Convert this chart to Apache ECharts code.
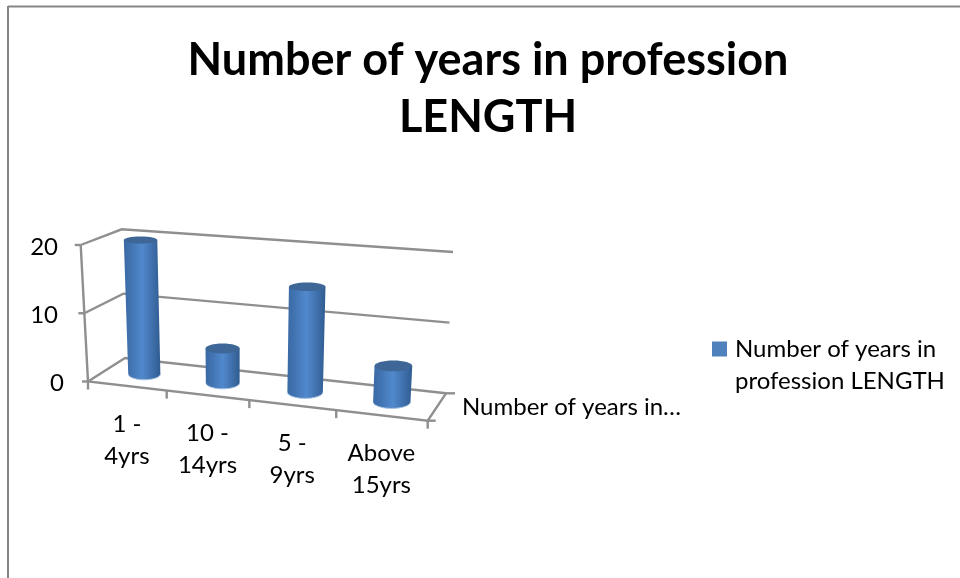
<!DOCTYPE html>
<html>
<head>
<meta charset="utf-8">
<style>html,body{margin:0;padding:0;background:#fff}#chart{width:960px;height:578px}</style>
<script src="https://cdn.jsdelivr.net/npm/echarts@6/dist/echarts.min.js"></script>
</head>
<body>
<div id="chart"></div>
<script>
const chartTitle = 'Number of years in profession\nLENGTH';
const seriesName = 'Number of years in profession LENGTH';
const depthLabel = 'Number of years in…';
const categories = ['1 - 4yrs', '10 - 14yrs', '5 - 9yrs', 'Above 15yrs'];
const lengths = [20, 5, 15, 5];
const valueTicks = [0, 10, 20];

const FONT = 'Lato, "Open Sans", sans-serif';
const LINE = '#8f8f8f';

// Corners of the 3D box on the page: front/back, bottom/top, left/right.
const box = {
  fbl: [88, 381.5], fbr: [427.7, 420.7],
  bbl: [125, 358], bbr: [446, 393.3],
  ftl: [80.7, 245], ftr: [437, 270.7],
  btl: [121.7, 229.3], btr: [453, 252]
};
const lerp = (a, b, k) => [a[0] + (b[0] - a[0]) * k, a[1] + (b[1] - a[1]) * k];
// Foreshortening along the category direction.
const warp = t => 0.9046 * t / (1 + (0.9046 - 1) * t);

// Maps axis fractions (t across, f up, z into the page) to page pixels.
function project(t, f, z) {
  const w = warp(t);
  const bottom = lerp(lerp(box.fbl, box.fbr, w), lerp(box.bbl, box.bbr, w), z);
  const top = lerp(lerp(box.ftl, box.ftr, w), lerp(box.btl, box.btr, w), z);
  return lerp(bottom, top, f);
}
// Converts a data point to axis fractions through the chart's own scales.
function fractions(api, params, cat, val) {
  const g = params.coordSys;
  const p = api.coord([cat, val]);
  return [(p[0] - g.x) / g.width, (g.y + g.height - p[1]) / g.height];
}
const lineEl = (points, width) => ({
  type: 'polyline',
  shape: { points },
  style: { stroke: LINE, lineWidth: width || 2.4, fill: 'none' },
  silent: true
});

function renderWall(params, api) {
  const f = fractions(api, params, 0, api.value(1))[1];
  const front = project(0, f, 0);
  return {
    type: 'group',
    children: [
      lineEl([front, project(0, f, 1), project(1, f, 1)]),
      lineEl([[front[0] - 6, front[1]], front])
    ]
  };
}

function renderFloor(params, api) {
  const children = [
    lineEl([project(0, 1, 0), project(0, 0, 0), project(1, 0, 0), project(1, 0, 1)]),
    lineEl([project(1, 0, 1), [project(1, 0, 1)[0] + 9, project(1, 0, 1)[1]]]),
    lineEl([project(1, 0, 0), [project(1, 0, 0)[0] + 8, project(1, 0, 0)[1]]])
  ];
  for (let i = 0; i <= categories.length; i++) {
    const p = project(i / categories.length, 0, 0);
    children.push(lineEl([p, [p[0], p[1] + 8]]));
  }
  return { type: 'group', children };
}

function renderCategoryLabel(params, api) {
  const i = api.value(0);
  const t = fractions(api, params, i, 0)[0];
  const p = project(t, 0, 0);
  const name = categories[i];
  const cut = name.lastIndexOf(' ');
  return {
    type: 'text',
    x: p[0],
    y: p[1] + 38,
    silent: true,
    style: {
      text: name.slice(0, cut) + '\n' + name.slice(cut + 1),
      font: '24px ' + FONT,
      lineHeight: 32,
      fill: '#000',
      align: 'center',
      verticalAlign: 'top',
      y: -16
    }
  };
}

function renderCylinder(params, api) {
  const i = api.value(0);
  const g = params.coordSys;
  const r = 0.21 * api.size([1, 0])[0] / g.width;
  const [t, f] = fractions(api, params, i, api.value(1));
  const base = project(t, 0, 0.5);
  const head = project(t, f, 0.5);
  const baseHalf = (project(t + r, 0, 0.5)[0] - project(t - r, 0, 0.5)[0]) / 2;
  const headHalf = (project(t + r, f, 0.5)[0] - project(t - r, f, 0.5)[0]) / 2;
  const headRy = Math.abs(project(t, f, 0.73)[1] - project(t, f, 0.27)[1]) / 2 * 0.95;
  const baseRy = Math.abs(project(t, 0, 0.73)[1] - project(t, 0, 0.27)[1]) / 2 * 1.05;

  const arc = [];
  for (let a = 0; a <= 24; a++) {
    const ang = Math.PI * a / 24;
    arc.push([base[0] + baseHalf * Math.cos(ang), base[1] + baseRy * Math.sin(ang)]);
  }
  const body = [[head[0] - headHalf, head[1]], [head[0] + headHalf, head[1]]].concat(arc);
  return {
    type: 'group',
    children: [
      {
        type: 'polygon',
        shape: { points: body },
        style: {
          fill: {
            type: 'linear', x: 0, y: 0, x2: 1, y2: 0,
            colorStops: [
              { offset: 0, color: '#3a6aa4' },
              { offset: 0.2, color: '#4274b2' },
              { offset: 0.5, color: '#5189cd' },
              { offset: 0.78, color: '#4070ac' },
              { offset: 1, color: '#2f5c90' }
            ]
          }
        }
      },
      {
        type: 'polyline',
        shape: { points: arc },
        style: { stroke: '#a9c4e4', lineWidth: 1, fill: 'none' }
      },
      {
        type: 'ellipse',
        shape: { cx: head[0], cy: head[1], rx: headHalf, ry: headRy },
        style: { fill: '#3e6696' }
      }
    ]
  };
}

const tickRich = { fontFamily: FONT, fontSize: 24, color: '#000' };

const chart = echarts.init(document.getElementById('chart'), null, { renderer: 'canvas' });
chart.setOption({
  animation: false,
  backgroundColor: '#ffffff',
  textStyle: { fontFamily: FONT },
  title: {
    text: chartTitle,
    left: 483,
    top: 27,
    textAlign: 'center',
    textStyle: { fontFamily: FONT, fontSize: 45, fontWeight: 'bold', color: '#000', lineHeight: 57 }
  },
  grid: { left: 72, top: 245, width: 356, height: 136.5 },
  xAxis: { type: 'category', data: categories, show: false },
  yAxis: {
    type: 'value', min: 0, max: 20, interval: 10,
    axisLine: { show: false }, axisTick: { show: false }, splitLine: { show: false },
    axisLabel: {
      margin: 8,
      formatter: v => (v === 0 ? '{zero|0}' : '{tens|' + v + '}'),
      rich: {
        zero: { ...tickRich, padding: [4, 0, 0, 0] },
        tens: { ...tickRich, padding: [4, 6, 0, 0] }
      }
    }
  },
  legend: {
    data: [seriesName],
    left: 712,
    top: 301,
    orient: 'vertical',
    icon: 'rect',
    itemWidth: 15,
    itemHeight: 15,
    itemGap: 0,
    padding: 0,
    selectedMode: false,
    formatter: () => '\nNumber of years in\nprofession LENGTH',
    textStyle: { fontFamily: FONT, fontSize: 24, color: '#000', lineHeight: 32, padding: [0, 0, 0, 3] }
  },
  graphic: [
    { type: 'line', shape: { x1: 8, y1: 6.5, x2: 960, y2: 6.5 }, style: { stroke: '#868686', lineWidth: 2 }, silent: true },
    { type: 'line', shape: { x1: 8, y1: 6, x2: 8, y2: 578 }, style: { stroke: '#868686', lineWidth: 2 }, silent: true },
    { type: 'text', x: 462, y: 395, silent: true, style: { text: depthLabel, font: '24px ' + FONT, fill: '#000' } }
  ],
  series: [
    { type: 'custom', name: 'wall', z: 1, silent: true, renderItem: renderWall, data: valueTicks.map(v => [0, v]) },
    { type: 'custom', name: 'floor', z: 1, silent: true, renderItem: renderFloor, data: [[0, 0]] },
    { type: 'custom', name: 'labels', z: 3, silent: true, renderItem: renderCategoryLabel, data: categories.map((c, i) => [i, 0]) },
    {
      type: 'custom', name: seriesName, z: 2, silent: true,
      itemStyle: { color: '#4f81bd' },
      renderItem: renderCylinder,
      data: lengths.map((v, i) => [i, v])
    }
  ]
});
</script>
</body>
</html>
